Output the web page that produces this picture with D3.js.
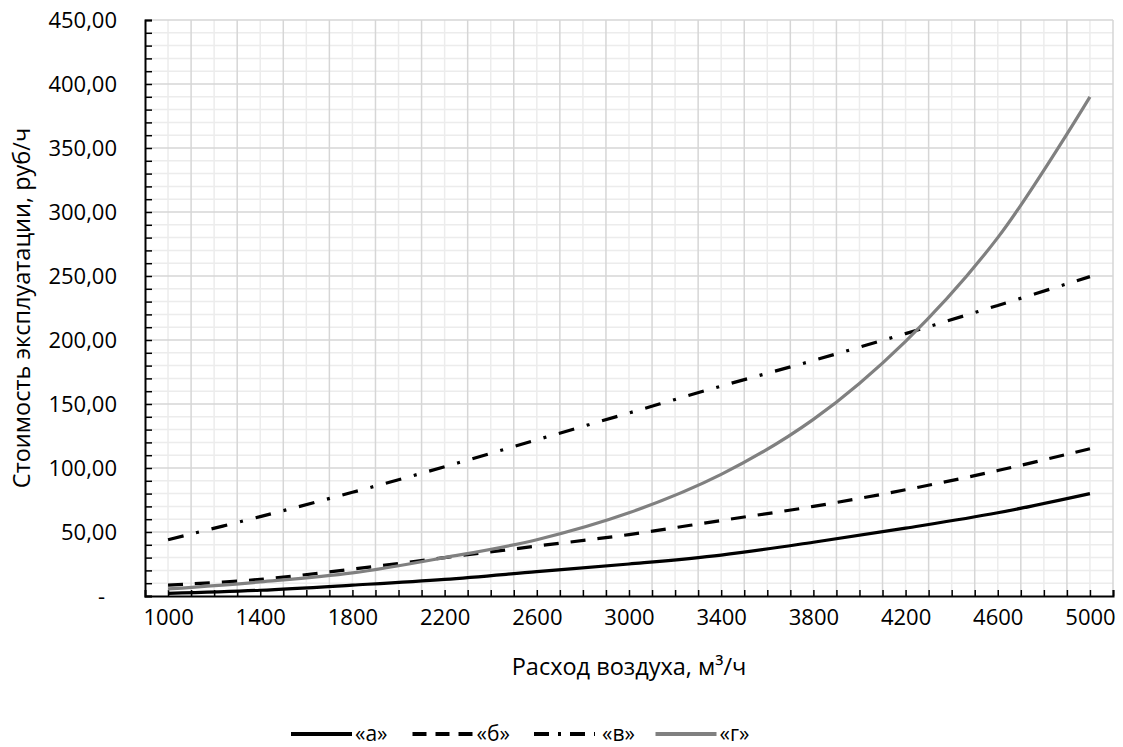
<!DOCTYPE html>
<html>
<head>
<meta charset="utf-8">
<script src="https://cdn.jsdelivr.net/npm/d3@7"></script>
<style>
  body { margin: 0; background: #fff; }
  svg text { font-family: "Open Sans", "Noto Sans", sans-serif; fill: #000; }
</style>
</head>
<body>
<div id="chart"></div>
<script>
// Chart size
const width = 1123;
const height = 747;

// Data (cost, rub/h, at each airflow point)
const flows = [1000, 1400, 1800, 2200, 2600, 3000, 3400, 3800, 4200, 4600, 5000];
const seriesA = [2, 4.5, 8.5, 13, 19, 25, 32, 42, 53, 65, 80];
const seriesB = [8.5, 13, 21, 30, 39, 48, 59, 70, 83, 98, 115];
const seriesV = [44, 62, 81, 101, 122, 143, 164, 184, 205, 227, 249.5];
const seriesG = [5.5, 11, 18, 30, 44, 65, 95, 138, 199, 280, 390];
const seriesNames = ["«а»", "«б»", "«в»", "«г»"];
const xLabels = [1000, 1400, 1800, 2200, 2600, 3000, 3400, 3800, 4200, 4600, 5000];
const yLabels = [0, 50, 100, 150, 200, 250, 300, 350, 400, 450];

const plot = { left: 145, right: 1113, top: 20, bottom: 596 };

const svg = d3.select("#chart")
    .append("svg")
    .attr("width", width)
    .attr("height", height);

const x = d3.scaleLinear().domain([900, 5100]).range([plot.left, plot.right]);
const y = d3.scaleLinear().domain([0, 450]).range([plot.bottom, plot.top]);

// Gridlines: minor first, then major on top
const grid = svg.append("g");
const xMinor = d3.range(1000, 5001, 200);
const xMajor = d3.range(1100, 5101, 200);
const yMinor = d3.range(10, 451, 10).filter(v => v % 50 !== 0);
const yMajor = d3.range(50, 451, 50);

grid.selectAll(".vminor").data(xMinor).enter().append("line")
    .attr("x1", d => x(d)).attr("x2", d => x(d))
    .attr("y1", plot.top).attr("y2", plot.bottom)
    .attr("stroke", "#ececec").attr("stroke-width", 1.5);
grid.selectAll(".hminor").data(yMinor).enter().append("line")
    .attr("x1", plot.left).attr("x2", plot.right)
    .attr("y1", d => y(d)).attr("y2", d => y(d))
    .attr("stroke", "#ececec").attr("stroke-width", 1.5);
grid.selectAll(".vmajor").data(xMajor).enter().append("line")
    .attr("x1", d => x(d)).attr("x2", d => x(d))
    .attr("y1", plot.top).attr("y2", plot.bottom)
    .attr("stroke", "#d6d6d6").attr("stroke-width", 1.5);
grid.selectAll(".hmajor").data(yMajor).enter().append("line")
    .attr("x1", plot.left).attr("x2", plot.right)
    .attr("y1", d => y(d)).attr("y2", d => y(d))
    .attr("stroke", "#d6d6d6").attr("stroke-width", 1.5);

// Axes (ticks point inward, like the original)
const fmt = v => v === 0 ? "-" : d3.format(".2f")(v).replace(".", ",");

const yAxis = svg.append("g")
    .attr("transform", `translate(${plot.left},0)`)
    .call(d3.axisLeft(y)
        .tickValues(d3.range(0, 451, 10))
        .tickSize(-7)
        .tickPadding(28)
        .tickFormat(d => yLabels.includes(d) ? fmt(d) : ""));

const xAxis = svg.append("g")
    .attr("transform", `translate(0,${plot.bottom})`)
    .call(d3.axisBottom(x)
        .tickValues(d3.range(1000, 5101, 100))
        .tickSize(-6)
        .tickPadding(13)
        .tickFormat(d => xLabels.includes(d) ? d : ""));

[yAxis, xAxis].forEach(g => {
    g.select(".domain").attr("stroke", "#000").attr("stroke-width", 2);
    g.selectAll(".tick line").attr("stroke", "#000").attr("stroke-width", 1.5);
    g.selectAll("text").attr("font-size", 22).attr("font-family", null);
});
// the zero label is a dash, set in from the other labels
yAxis.selectAll(".tick text").filter(d => d === 0).attr("x", -40);

// Axis titles
svg.append("text")
    .attr("x", (plot.left + plot.right) / 2)
    .attr("y", 675)
    .attr("text-anchor", "middle")
    .attr("font-size", 23.5)
    .text("Расход воздуха, м³/ч");

svg.append("text")
    .attr("transform", `translate(30,${(plot.top + plot.bottom) / 2}) rotate(-90)`)
    .attr("text-anchor", "middle")
    .attr("font-size", 23.5)
    .text("Стоимость эксплуатации, руб/ч");

// Series
const styles = [
    { values: seriesA, color: "#000", dash: null, legendDash: null },
    { values: seriesB, color: "#000", dash: "15,12", legendDash: "14,9" },
    { values: seriesV, color: "#000", dash: "16,13,3,13", legendDash: "15,9,3,9" },
    { values: seriesG, color: "#808080", dash: null, legendDash: null }
];

const line = d3.line()
    .x(d => x(d[0]))
    .y(d => y(d[1]))
    .curve(d3.curveCatmullRom.alpha(0.5));

svg.append("g").selectAll("path")
    .data(styles)
    .enter().append("path")
    .attr("d", s => line(flows.map((f, i) => [f, s.values[i]])))
    .attr("fill", "none")
    .attr("stroke", s => s.color)
    .attr("stroke-width", 3.2)
    .attr("stroke-dasharray", s => s.dash);

// Legend
const legend = svg.append("g").attr("transform", "translate(291,734)");
const item = legend.selectAll("g")
    .data(styles)
    .enter().append("g")
    .attr("transform", (d, i) => `translate(${i * 121.5},0)`);
item.append("line")
    .attr("x1", 0).attr("x2", 61)
    .attr("stroke", s => s.color)
    .attr("stroke-width", 4)
    .attr("stroke-dasharray", s => s.legendDash);
item.append("text")
    .attr("x", (d, i) => i === 2 ? 68 : 64)
    .attr("dy", "0.32em")
    .attr("font-size", 21)
    .text((d, i) => seriesNames[i]);
</script>
</body>
</html>
